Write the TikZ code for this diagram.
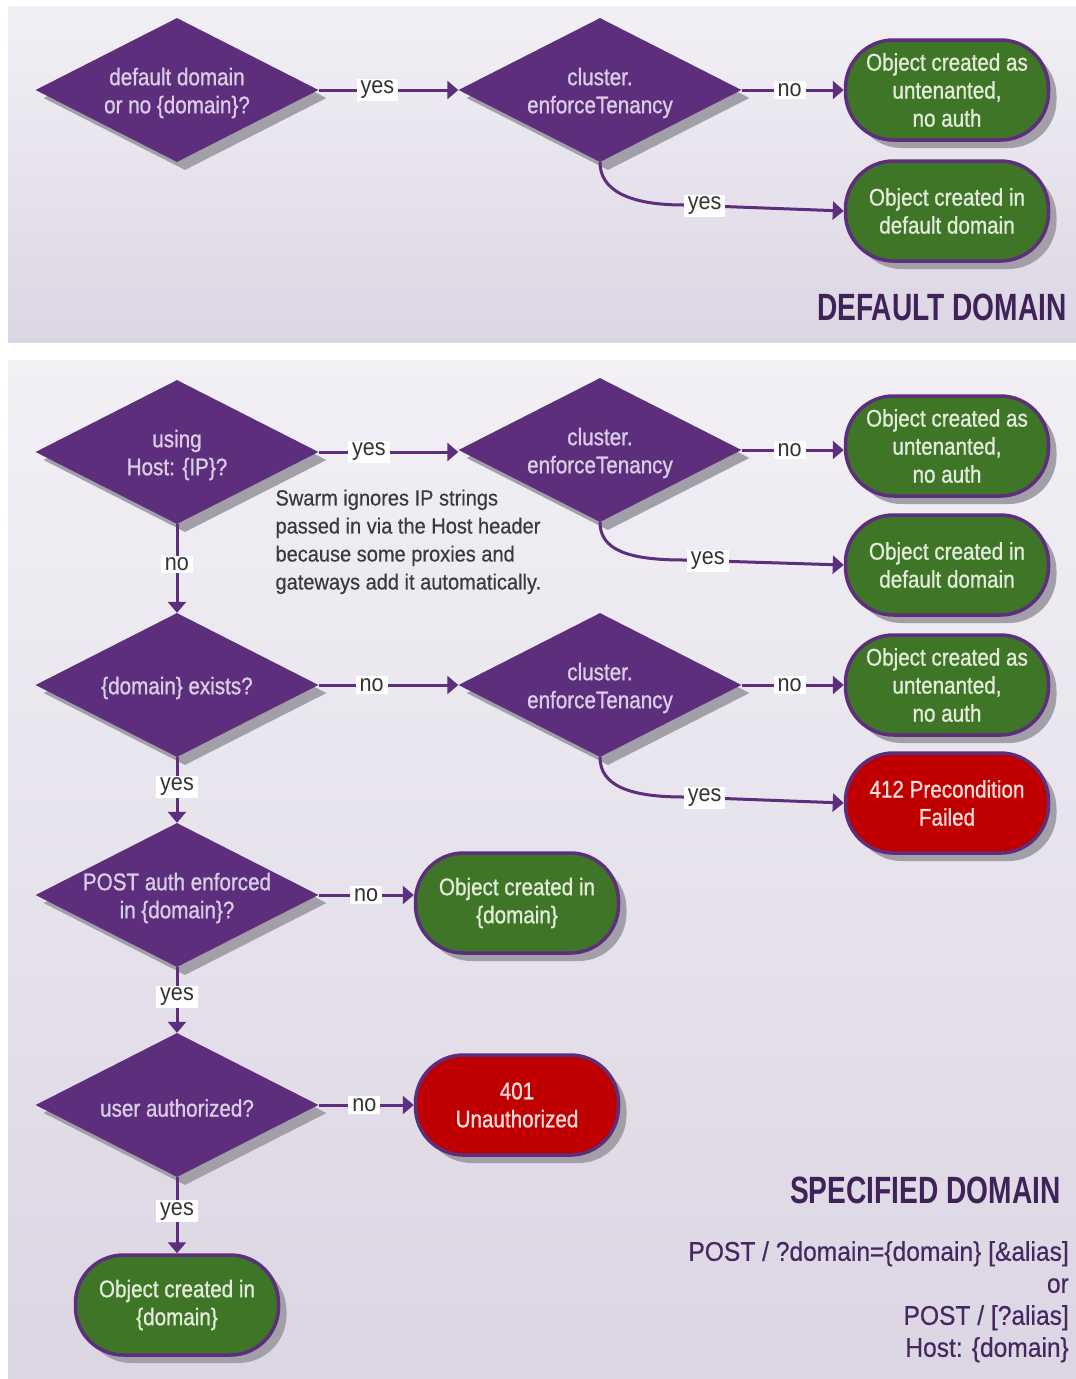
\documentclass[tikz,border=0pt]{standalone}
\usepackage{fontspec}
\setmainfont{Liberation Sans}
\newfontfamily\condfont[FakeStretch=0.86,FakeBold=1]{Liberation Sans}
\newfontfamily\labfont[FakeStretch=0.9]{Liberation Sans}
\newfontfamily\notefont[FakeStretch=0.91,FakeBold=0.4]{Liberation Sans}
\newfontfamily\headfont[FakeStretch=0.74]{Liberation Sans}
\usetikzlibrary{shapes.geometric,arrows.meta,shadows,calc}
\definecolor{dpurple}{HTML}{5C2E7B}
\definecolor{dtext}{HTML}{D9CDE6}
\definecolor{tgreen}{HTML}{3E7526}
\definecolor{gtext}{HTML}{E3EBDA}
\definecolor{tred}{HTML}{C00000}
\definecolor{rtext}{HTML}{F7DCDC}
\definecolor{shad}{HTML}{A29FA8}
\definecolor{bgtop}{HTML}{F2F0F5}
\definecolor{bgbot}{HTML}{DCD5E4}
\definecolor{headc}{HTML}{3F2257}
\definecolor{postc}{HTML}{452862}
\definecolor{notec}{HTML}{3A3A3A}
\tikzset{
  decision/.style={diamond, fill=dpurple, minimum width=283pt, minimum height=144pt, inner sep=0pt,
    drop shadow={shadow xshift=8pt, shadow yshift=-8pt, fill=shad, opacity=1}},
  dtx/.style={text=dtext, font=\condfont\fontsize{24}{28}\selectfont, align=center, yshift=-3pt},
  terminal/.style={rectangle, rounded corners=48pt, draw=dpurple, line width=3.5pt,
    minimum width=203pt, minimum height=100pt, inner sep=0pt, align=center,
    font=\condfont\fontsize{24}{28}\selectfont,
    drop shadow={shadow xshift=8pt, shadow yshift=-8pt, fill=shad, opacity=1}},
  okterm/.style={terminal, fill=tgreen, text=gtext},
  failterm/.style={terminal, fill=tred, text=rtext},
  conn/.style={draw=dpurple, line width=3pt, -{Triangle[length=11pt,width=18pt]}},
  lab/.style={fill=white, text=black!80, font=\labfont\fontsize{24}{24}\selectfont, inner xsep=4pt, inner ysep=2pt},
  headtx/.style={text=headc, font=\headfont\bfseries\fontsize{38}{38}\selectfont},
}
\begin{document}
\begin{tikzpicture}[x=1pt,y=-1pt]
\useasboundingbox (0,0) rectangle (1076,1379);
\fill[white] (0,0) rectangle (1076,1379);
\fill[top color=bgtop, bottom color=bgbot] (8,6) rectangle (1076,342);
\fill[top color=bgtop, bottom color=bgbot] (8,360) rectangle (1076,1379);

% ---------- DEFAULT DOMAIN ----------
\node[decision, label={[dtx]center:{default domain\\or no \{domain\}?}}] (d1) at (177,90) {};
\node[decision, label={[dtx]center:{cluster.\\enforceTenancy}}] (d2) at (600,90) {};
\node[okterm] (t1) at (947,90) {Object created as\\untenanted,\\no auth};
\node[okterm] (t2) at (947,211) {Object created in\\default domain};
\node[headtx, anchor=east] (h1) at (1070,307) {DEFAULT DOMAIN};

\draw[conn] (d1.east) -- node[lab, pos=0.42] {yes} (d2.west);
\draw[conn] (d2.east) -- node[lab, pos=0.47] {no} (d2.east -| t1.west);
\draw[conn] (d2.south) .. controls +(0,28) and +(-55,0) .. ($(t2.west)+(-160,-6)$)
   -- node[lab, pos=0.13] {yes} (t2.west);

% ---------- SPECIFIED DOMAIN ----------
\node[decision, label={[dtx]center:{using\\Host: \{IP\}?}}] (dA) at (177,452) {};
\node[decision, label={[dtx]center:{cluster.\\enforceTenancy}}] (dB) at (600,450) {};
\node[okterm] (tB1) at (947,446) {Object created as\\untenanted,\\no auth};
\node[okterm] (tB2) at (947,565) {Object created in\\default domain};
\node[anchor=north west, align=left, text=notec, font=\notefont\fontsize{22}{28}\selectfont] (note) at (272,486)
  {Swarm ignores IP strings\\passed in via the Host header\\because some proxies and\\gateways add it automatically.};

\node[decision, label={[dtx]center:{\{domain\} exists?}}] (dC) at (177,685) {};
\node[decision, label={[dtx]center:{cluster.\\enforceTenancy}}] (dD) at (600,685) {};
\node[okterm] (tD1) at (947,685) {Object created as\\untenanted,\\no auth};
\node[failterm] (tD2) at (947,803) {412 Precondition\\Failed};

\node[decision, label={[dtx]center:{POST auth enforced\\in \{domain\}?}}] (dE) at (177,895) {};
\node[okterm] (tE) at (517,903) {Object created in\\\{domain\}};

\node[decision, label={[dtx]center:{user authorized?}}] (dF) at (177,1105) {};
\node[failterm] (tF) at (517,1105) {401\\Unauthorized};

\node[okterm] (tEnd) at (177,1305) {Object created in\\\{domain\}};

\node[headtx, anchor=east] (h2) at (1064,1190) {SPECIFIED DOMAIN};
\node[anchor=north east, align=right, text=postc, font=\notefont\fontsize{27}{32}\selectfont, inner sep=0pt] (post) at (1069,1241)
  {POST / ?domain=\{domain\} [\&alias]\\or\\POST / [?alias]\\Host: \{domain\}};

\draw[conn] (dA.east) -- node[lab, pos=0.36] {yes} (dB.west |- dA.east);
\draw[conn] (dB.east) -- node[lab, pos=0.47] {no} (dB.east -| tB1.west);
\draw[conn] (dB.south) .. controls +(0,28) and +(-55,0) .. ($(tB2.west)+(-160,-5)$)
   -- node[lab, pos=0.15] {yes} (tB2.west);
\draw[conn] (dA.south) -- node[lab, pos=0.45] {no} (dC.north);

\draw[conn] (dC.east) -- node[lab, pos=0.38] {no} (dD.west);
\draw[conn] (dD.east) -- node[lab, pos=0.47] {no} (tD1.west);
\draw[conn] (dD.south) .. controls +(0,28) and +(-55,0) .. ($(tD2.west)+(-160,-6)$)
   -- node[lab, pos=0.13] {yes} (tD2.west);
\draw[conn] (dC.south) -- node[lab, pos=0.45] {yes} (dE.north);

\draw[conn] (dE.east) -- node[lab, pos=0.5] {no} (dE.east -| tE.west);
\draw[conn] (dE.south) -- node[lab, pos=0.45] {yes} (dF.north);
\draw[conn] (dF.east) -- node[lab, pos=0.48] {no} (tF.west);
\draw[conn] (dF.south) -- node[lab, pos=0.45] {yes} (tEnd.north);
\end{tikzpicture}
\end{document}
